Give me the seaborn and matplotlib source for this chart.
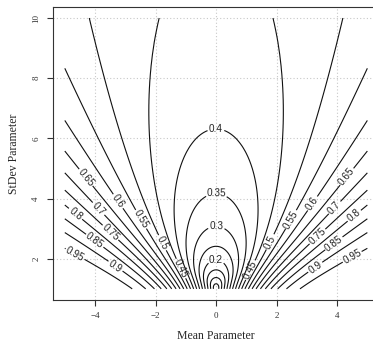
import numpy as np
import matplotlib
matplotlib.use("Agg")
import matplotlib.pyplot as plt
import seaborn as sns

# ---- data description -------------------------------------------------
mean_limits = [-5.0, 5.0]          # range of the mean parameter
sd_limits = [1.0, 10.0]            # range of the st.dev parameter
contour_levels = [0.05, 0.10, 0.15, 0.20, 0.25, 0.30, 0.35, 0.40, 0.45, 0.50,
                  0.55, 0.60, 0.65, 0.70, 0.75, 0.80, 0.85, 0.90, 0.95]
x_ticks = [-4, -2, 0, 2, 4]
y_ticks = [2, 4, 6, 8, 10]
x_label = "Mean Parameter"
y_label = "StDev Parameter"


def norm_cdf(x):
    # Abramowitz & Stegun 7.1.26 approximation of erf
    z = np.abs(x) / np.sqrt(2.0)
    p = 0.3275911
    a1, a2, a3, a4, a5 = 0.254829592, -0.284496736, 1.421413741, -1.453152027, 1.061405429
    tt = 1.0 / (1.0 + p * z)
    erf = 1.0 - (((((a5 * tt + a4) * tt) + a3) * tt + a2) * tt + a1) * tt * np.exp(-z * z)
    return 0.5 * (1.0 + np.sign(x) * erf)


# PIT calibration error of a N(mean, sd) forecast for N(0,1) observations
mu = np.linspace(mean_limits[0], mean_limits[1], 201)
sd = np.linspace(sd_limits[0], sd_limits[1], 181)
t = np.linspace(-7, 7, 1401)
w = np.exp(-0.5 * t ** 2) / np.sqrt(2 * np.pi) * (t[1] - t[0])
Phi_t = norm_cdf(t)
Z = np.empty((len(sd), len(mu)))
for i, s in enumerate(sd):
    F = norm_cdf(mu[:, None] + s * t[None, :])
    Z[i] = 2.0 * np.sum(np.abs(F - Phi_t[None, :]) * w[None, :], axis=1)

# ---- drawing ----------------------------------------------------------
sns.set_style("white")
plt.rcParams["font.family"] = ["Liberation Serif", "DejaVu Serif"]

fig = plt.figure(figsize=(3.73, 3.44), dpi=100)
ax = fig.add_axes([0.1413, 0.1288, 0.876, 0.8503])

cs = ax.contour(mu, sd, Z, levels=contour_levels, colors="#111111",
                linewidths=0.8)

label_spots = [(-4.73, 2.03), (-3.34, 1.73), (-4.07, 2.52), (-4.73, 3.39),
               (-3.50, 2.86), (-3.93, 3.62), (-4.40, 4.62), (-3.27, 3.89),
               (-2.45, 3.33), (-1.72, 2.56), (-1.15, 1.68),
               (4.43, 2.19), (3.27, 1.73), (3.93, 2.46), (4.60, 3.39),
               (3.37, 2.72), (3.93, 3.69), (4.33, 4.72), (3.17, 3.85),
               (2.38, 3.36), (1.79, 2.56), (1.12, 1.63),
               (0.0, 6.18), (0.0, 3.95), (0.0, 2.89), (0.0, 1.96)]
txts = ax.clabel(cs, manual=label_spots, inline=True,
                 inline_spacing=3, fontsize=7.2,
                 fmt=lambda v: f"{v:g}")
for tx in txts:
    tx.set_fontfamily(["Liberation Sans", "DejaVu Sans"])
    tx.set_color("#222222")

ax.set_xlim(-5.4, 5.4)
ax.set_ylim(0.64, 10.36)
ax.set_xticks(x_ticks)
ax.set_yticks(y_ticks)
ax.grid(True, color="#c8c8c8", linestyle=(0, (1, 2)), linewidth=0.8)
ax.set_axisbelow(True)

for side in ["left", "bottom", "top"]:
    ax.spines[side].set_color("#333333")
    ax.spines[side].set_linewidth(0.8)
ax.spines["right"].set_visible(False)

ax.tick_params(direction="out", length=4, width=0.8, color="#333333",
               labelsize=6.5, labelcolor="#333333", pad=5, left=True, bottom=True)
for lab in ax.get_yticklabels():
    lab.set_rotation(90)
    lab.set_va("center")

ax.set_xlabel(x_label, fontsize=8.5)
ax.set_ylabel(y_label, fontsize=8.5)
ax.xaxis.set_label_coords(0.5, -0.104)
ax.yaxis.set_label_coords(-0.100, 0.5)

fig.savefig("out.png", dpi=100)
